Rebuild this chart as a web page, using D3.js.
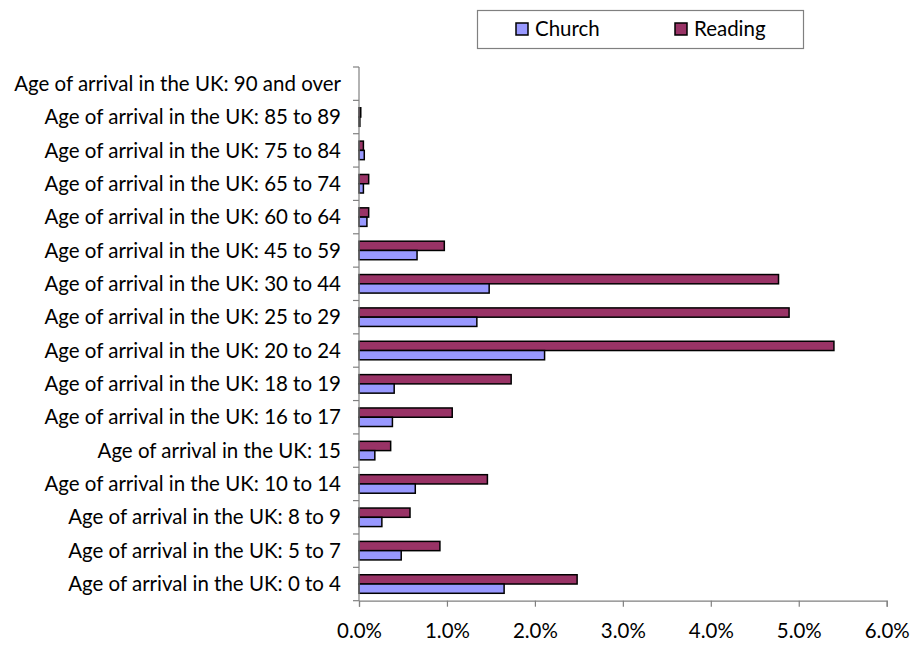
<!DOCTYPE html>
<html>
<head>
<meta charset="utf-8">
<script src="https://cdn.jsdelivr.net/npm/d3@7"></script>
<style>
  html, body { margin: 0; padding: 0; background: #fff; }
  svg { display: block; }
  text { font-family: Lato, "Open Sans", sans-serif; fill: #000; }
</style>
</head>
<body>
<svg id="chart" width="915" height="645"></svg>
<script>
const categories = [
  "Age of arrival in the UK: 0 to 4",
  "Age of arrival in the UK: 5 to 7",
  "Age of arrival in the UK: 8 to 9",
  "Age of arrival in the UK: 10 to 14",
  "Age of arrival in the UK: 15",
  "Age of arrival in the UK: 16 to 17",
  "Age of arrival in the UK: 18 to 19",
  "Age of arrival in the UK: 20 to 24",
  "Age of arrival in the UK: 25 to 29",
  "Age of arrival in the UK: 30 to 44",
  "Age of arrival in the UK: 45 to 59",
  "Age of arrival in the UK: 60 to 64",
  "Age of arrival in the UK: 65 to 74",
  "Age of arrival in the UK: 75 to 84",
  "Age of arrival in the UK: 85 to 89",
  "Age of arrival in the UK: 90 and over"
];
const churchValues  = [1.65, 0.48, 0.26, 0.64, 0.18, 0.38, 0.40, 2.11, 1.34, 1.48, 0.66, 0.09, 0.05, 0.06, 0.01, 0.0];
const readingValues = [2.48, 0.92, 0.58, 1.46, 0.36, 1.06, 1.73, 5.40, 4.89, 4.77, 0.97, 0.11, 0.11, 0.05, 0.02, 0.0];
const seriesNames = ["Church", "Reading"];
const seriesColors = ["#9999FF", "#993366"];
const xTicks = [0, 1, 2, 3, 4, 5, 6];

(function () {
const svg = d3.select("#chart");
const mLeft = 359, mRight = 886.7, mTop = 67, mBottom = 600.7;

const x = d3.scaleLinear().domain([0, 6]).range([mLeft, mRight]);
const y = d3.scaleBand().domain(categories.slice().reverse()).range([mTop, mBottom]).padding(0);
const y1 = d3.scaleBand().domain(["Reading", "Church"]).range([0, y.bandwidth()]).paddingInner(0).paddingOuter(0.8);

const valueOf = { Church: churchValues, Reading: readingValues };
const colorOf = { Church: seriesColors[0], Reading: seriesColors[1] };

const longest = categories[15];
const probe = svg.append("text").attr("font-size", 16).text(longest);
const w16 = probe.node().getComputedTextLength();
probe.remove();
const fs = 16 * 327 / w16;

categories.forEach((c, i) => {
  ["Reading", "Church"].forEach(s => {
    const v = valueOf[s][i];
    svg.append("rect")
      .attr("x", x(0))
      .attr("y", y(c) + y1(s))
      .attr("width", Math.max(0, x(v) - x(0)))
      .attr("height", y1.bandwidth())
      .attr("fill", colorOf[s])
      .attr("stroke", v > 0 ? "#000" : "none")
      .attr("stroke-width", 1.5);
  });
});

const yAxisG = svg.append("g");
yAxisG.append("line").attr("x1", mLeft).attr("x2", mLeft).attr("y1", mTop).attr("y2", mBottom)
  .attr("stroke", "#808080").attr("stroke-width", 1.2);
const boundaries = d3.range(categories.length + 1).map(i => mTop + i * y.step());
yAxisG.selectAll("line.tick").data(boundaries).join("line")
  .attr("class", "tick")
  .attr("x1", mLeft - 6).attr("x2", mLeft).attr("y1", d => d).attr("y2", d => d)
  .attr("stroke", "#808080").attr("stroke-width", 1.2);
yAxisG.selectAll("text").data(categories).join("text")
  .attr("x", 341)
  .attr("y", d => y(d) + y.bandwidth() / 2)
  .attr("dy", "0.35em")
  .attr("text-anchor", "end")
  .attr("font-size", fs)
  .text(d => d);

const xAxis = d3.axisBottom(x).tickValues(xTicks).tickSize(6).tickPadding(17)
  .tickFormat(d => d.toFixed(1) + "%");
const xg = svg.append("g").attr("transform", `translate(0,${mBottom})`).call(xAxis);
xg.select(".domain").attr("stroke", "#808080").attr("stroke-width", 1.2);
xg.selectAll(".tick line").attr("stroke", "#808080").attr("stroke-width", 1.2);
xg.selectAll(".tick text").attr("font-size", fs).attr("font-family", "Lato, 'Open Sans', sans-serif").attr("fill", "#000");

const lg = svg.append("g");
lg.append("rect").attr("x", 477.5).attr("y", 10.5).attr("width", 326).attr("height", 38)
  .attr("fill", "#fff").attr("stroke", "#808080").attr("stroke-width", 1.2);
const legendX = [516, 675];
seriesNames.forEach((s, i) => {
  lg.append("rect").attr("x", legendX[i]).attr("y", 23).attr("width", 12).attr("height", 12)
    .attr("fill", seriesColors[i]).attr("stroke", "#000").attr("stroke-width", 1.5);
  lg.append("text").attr("x", legendX[i] + 19).attr("y", 29).attr("dy", "0.35em")
    .attr("font-size", fs).text(s);
});
})();
</script>
</body>
</html>
